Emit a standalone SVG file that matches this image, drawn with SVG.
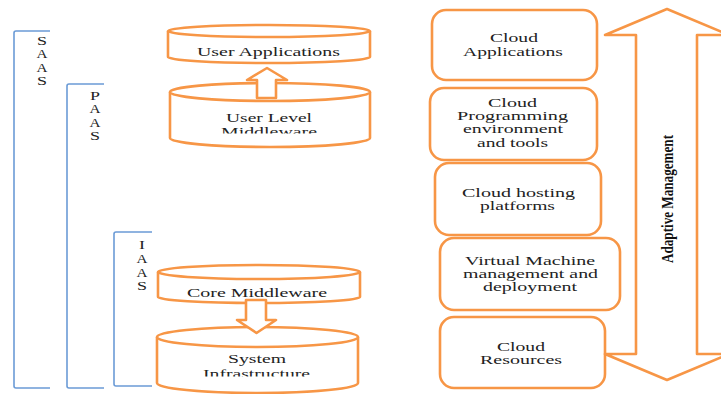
<svg xmlns="http://www.w3.org/2000/svg" width="721" height="394" viewBox="0 0 721 394">
  <style>
    .shape { fill: #ffffff; stroke: #f79646; stroke-width: 2.6; stroke-linejoin: round; }
    .bracket { fill: none; stroke: #6b9bd6; stroke-width: 1.6; }
    .lbl { font-family: "Liberation Serif", "Times New Roman", serif; font-size: 13.5px; fill: #222222; text-anchor: middle; }
    .tag { font-family: "Liberation Serif", "Times New Roman", serif; font-size: 11.5px; fill: #222222; text-anchor: middle; }
    .mgmt { font-family: "Liberation Serif", "Times New Roman", serif; font-size: 17px; font-weight: bold; fill: #111111; text-anchor: middle; }
  </style>
  <defs>
    <clipPath id="clipUlm"><rect x="160" y="100" width="220" height="33.5"/></clipPath>
    <clipPath id="clipSys"><rect x="150" y="340" width="220" height="36.5"/></clipPath>
  </defs>
  <rect width="721" height="394" fill="#ffffff"/>

  <!-- service-level brackets -->
  <g id="saas">
    <path class="bracket" d="M50,31 H16 Q14,31 14,33 V386 Q14,388 16,388 H50"/>
    <text class="tag" x="42" y="45" textLength="10" lengthAdjust="spacingAndGlyphs">S</text>
    <text class="tag" x="42" y="58" textLength="11" lengthAdjust="spacingAndGlyphs">A</text>
    <text class="tag" x="42" y="72" textLength="11" lengthAdjust="spacingAndGlyphs">A</text>
    <text class="tag" x="42" y="85" textLength="10" lengthAdjust="spacingAndGlyphs">S</text>
  </g>
  <g id="paas">
    <path class="bracket" d="M104,84 H69 Q67,84 67,86 V386 Q67,388 69,388 H104"/>
    <text class="tag" x="95" y="100" textLength="10" lengthAdjust="spacingAndGlyphs">P</text>
    <text class="tag" x="95" y="113" textLength="11" lengthAdjust="spacingAndGlyphs">A</text>
    <text class="tag" x="95" y="127" textLength="11" lengthAdjust="spacingAndGlyphs">A</text>
    <text class="tag" x="95" y="140" textLength="10" lengthAdjust="spacingAndGlyphs">S</text>
  </g>
  <g id="iaas">
    <path class="bracket" d="M152,232 H116 Q114,232 114,234 V384 Q114,386 116,386 H152"/>
    <text class="tag" x="142" y="249" textLength="6" lengthAdjust="spacingAndGlyphs">I</text>
    <text class="tag" x="142" y="263" textLength="11" lengthAdjust="spacingAndGlyphs">A</text>
    <text class="tag" x="142" y="277" textLength="11" lengthAdjust="spacingAndGlyphs">A</text>
    <text class="tag" x="142" y="290" textLength="10" lengthAdjust="spacingAndGlyphs">S</text>
  </g>

  <!-- cylinder stack -->
  <g id="user-applications">
    <path class="shape" d="M168,31 V57 A101,6 0 0 0 370,57 V31"/>
    <ellipse class="shape" cx="269" cy="31" rx="101" ry="6"/>
    <text class="lbl" x="268.5" y="56" textLength="143" lengthAdjust="spacingAndGlyphs">User Applications</text>
  </g>
  <g id="user-level-middleware">
    <path class="shape" d="M170,92 V138 A100,9 0 0 0 370,138 V92"/>
    <ellipse class="shape" cx="270" cy="92" rx="100" ry="9"/>
    <text class="lbl" x="269" y="122" textLength="86" lengthAdjust="spacingAndGlyphs">User Level</text>
    <text class="lbl" x="269" y="136" textLength="96" lengthAdjust="spacingAndGlyphs" clip-path="url(#clipUlm)">Middleware</text>
  </g>
  <g id="core-middleware">
    <path class="shape" d="M158,272 V297 A101,6 0 0 0 360,297 V272"/>
    <ellipse class="shape" cx="259" cy="272" rx="101" ry="7"/>
    <text class="lbl" x="257" y="297" textLength="140" lengthAdjust="spacingAndGlyphs">Core Middleware</text>
  </g>
  <g id="system-infrastructure">
    <path class="shape" d="M157,337 V383 A100.5,10 0 0 0 358,383 V337"/>
    <ellipse class="shape" cx="257.5" cy="337" rx="100.5" ry="10"/>
    <text class="lbl" x="257" y="363" textLength="58" lengthAdjust="spacingAndGlyphs">System</text>
    <text class="lbl" x="256.5" y="378" textLength="107" lengthAdjust="spacingAndGlyphs" clip-path="url(#clipSys)">Infrastructure</text>
  </g>

  <!-- right-hand layer boxes -->
  <g id="cloud-applications">
    <rect class="shape" x="432" y="10" width="165" height="70" rx="14"/>
    <text class="lbl" x="514" y="42" textLength="48" lengthAdjust="spacingAndGlyphs">Cloud</text>
    <text class="lbl" x="513" y="56" textLength="100" lengthAdjust="spacingAndGlyphs">Applications</text>
  </g>
  <g id="cloud-programming">
    <rect class="shape" x="430" y="88" width="167" height="72" rx="14"/>
    <text class="lbl" x="512.5" y="107" textLength="49" lengthAdjust="spacingAndGlyphs">Cloud</text>
    <text class="lbl" x="512.5" y="120" textLength="111" lengthAdjust="spacingAndGlyphs">Programming</text>
    <text class="lbl" x="513" y="133" textLength="100" lengthAdjust="spacingAndGlyphs">environment</text>
    <text class="lbl" x="512.5" y="147" textLength="71" lengthAdjust="spacingAndGlyphs">and tools</text>
  </g>
  <g id="cloud-hosting">
    <rect class="shape" x="435" y="163" width="166" height="72" rx="14"/>
    <text class="lbl" x="518.5" y="197" textLength="113" lengthAdjust="spacingAndGlyphs">Cloud hosting</text>
    <text class="lbl" x="517.5" y="210" textLength="75" lengthAdjust="spacingAndGlyphs">platforms</text>
  </g>
  <g id="vm-management">
    <rect class="shape" x="440" y="238" width="180" height="72" rx="14"/>
    <text class="lbl" x="530" y="265" textLength="130" lengthAdjust="spacingAndGlyphs">Virtual Machine</text>
    <text class="lbl" x="530.5" y="278" textLength="135" lengthAdjust="spacingAndGlyphs">management and</text>
    <text class="lbl" x="530" y="291" textLength="94" lengthAdjust="spacingAndGlyphs">deployment</text>
  </g>
  <g id="cloud-resources">
    <rect class="shape" x="440" y="317" width="165" height="71" rx="14"/>
    <text class="lbl" x="521" y="351" textLength="48" lengthAdjust="spacingAndGlyphs">Cloud</text>
    <text class="lbl" x="521" y="364" textLength="82" lengthAdjust="spacingAndGlyphs">Resources</text>
  </g>

  <!-- block arrows between layers and the management span -->
  <g id="connectors">
    <path class="shape" d="M257,98 V80 H247 L267,68 L287,80 H276 V98 Z"/>
    <path class="shape" d="M246,300 V320 H237 L256.5,333 L276,320 H266 V300 Z"/>
    <path class="shape" d="M667,9 L729,35 H697 V354 H729 L667,380 L605,354 H636 V35 H605 Z"/>
    <text class="mgmt" transform="translate(673,199) rotate(-90)" textLength="128" lengthAdjust="spacingAndGlyphs">Adaptive Management</text>
  </g>
</svg>
